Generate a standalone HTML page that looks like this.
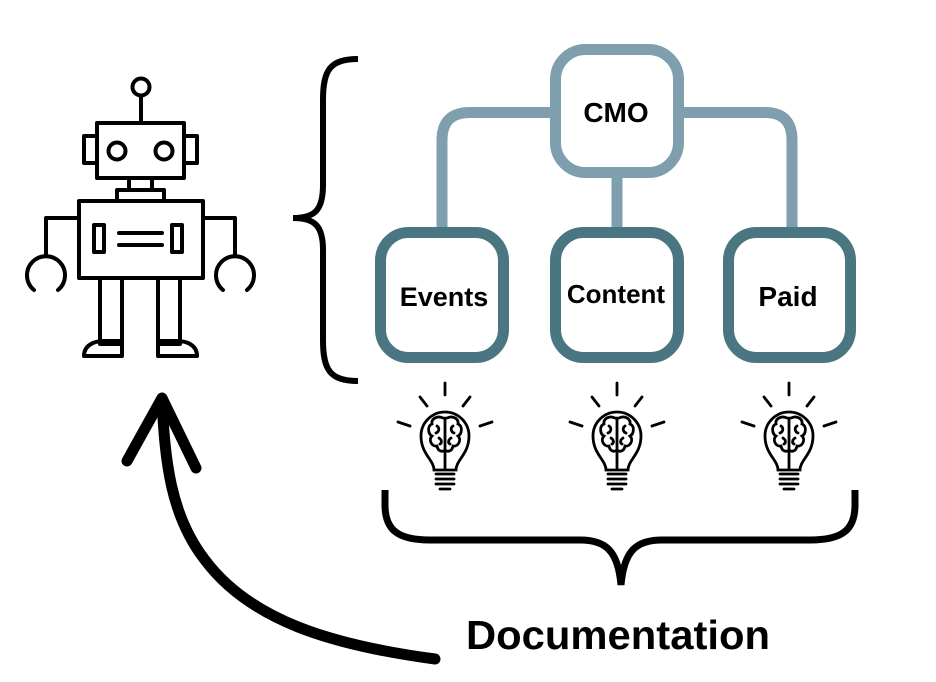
<!DOCTYPE html>
<html><head><meta charset="utf-8"><style>
html,body{margin:0;padding:0;background:#fff;}
svg{display:block}
text{font-family:"Liberation Sans",sans-serif;font-weight:bold;fill:#000}
</style></head><body>
<svg width="936" height="682" viewBox="0 0 936 682" xmlns="http://www.w3.org/2000/svg">
<defs>
<g id="bulb" fill="none" stroke="#000" stroke-width="2.8" stroke-linecap="round">
  <line x1="0" y1="-27" x2="0" y2="-15"/>
  <line x1="-25" y1="-13" x2="-18" y2="-4"/>
  <line x1="25" y1="-13" x2="18" y2="-4"/>
  <line x1="-47" y1="12" x2="-35" y2="16"/>
  <line x1="47" y1="12" x2="35" y2="16"/>
  <path d="M-11,60 C-11,50 -24,44 -24,26 A24,24 0 1 1 24,26 C24,44 11,50 11,60 Z"/>
  <path d="M-9,64 H9 M-9,69 H9 M-9,74 H9 M-5,79 H5"/>
  <path d="M-2,8 C-8,5 -14,9 -13,14 C-18,16 -17,24 -13,26 C-17,30 -13,37 -8,36 C-7,42 -2,42 0,40"/>
  <path d="M2,8 C8,5 14,9 13,14 C18,16 17,24 13,26 C17,30 13,37 8,36 C7,42 2,42 0,40"/>
  <path d="M0,8 V58 M-8,16 C-5,18 -6,22 -9,23 M8,16 C5,18 6,22 9,23 M-6,28 C-3,30 -3,33 -5,34 M6,28 C3,30 3,33 5,34"/>
</g>
</defs>

<!-- robot -->
<g fill="none" stroke="#000" stroke-width="4" stroke-linejoin="round" stroke-linecap="round">
  <circle cx="141" cy="87" r="8.5"/>
  <line x1="141" y1="96" x2="141" y2="123"/>
  <rect x="97" y="123" width="87" height="55"/>
  <rect x="84" y="136" width="13" height="27"/>
  <rect x="184" y="136" width="13" height="27"/>
  <circle cx="117" cy="151" r="8.5"/>
  <circle cx="164" cy="151" r="8.5"/>
  <line x1="129" y1="178" x2="129" y2="190"/>
  <line x1="152" y1="178" x2="152" y2="190"/>
  <rect x="117" y="190" width="47" height="11"/>
  <rect x="79" y="201" width="124" height="77"/>
  <rect x="94" y="225" width="10" height="27"/>
  <rect x="172" y="225" width="10" height="27"/>
  <line x1="119" y1="233" x2="162" y2="233"/>
  <line x1="119" y1="245" x2="162" y2="245"/>
  <path d="M79,218 H46 V256"/>
  <path d="M203,218 H235 V256"/>
  <path d="M34,290 A19,19 0 1 1 58,290"/>
  <path d="M223,290 A19,19 0 1 1 247,290"/>
  <rect x="100" y="278" width="22" height="66"/>
  <rect x="158" y="278" width="22" height="66"/>
  <path d="M84,356 C84,344 96,341 104,341 H122 V356 Z"/>
  <path d="M197,356 C197,344 185,341 177,341 H158 V356 Z"/>
</g>

<!-- left brace -->
<path d="M358,59 C330,59 323,70 323,100 V185 C323,210 315,218 293,218 C315,218 323,226 323,250 V340 C323,370 330,381 358,381" fill="none" stroke="#000" stroke-width="6"/>

<!-- connectors -->
<g fill="none" stroke="#7f9fae" stroke-width="11">
  <path d="M556,112.5 H470 Q442,112.5 442,140 V230"/>
  <path d="M678,112.5 H765 Q792,112.5 792,140 V230"/>
  <line x1="617" y1="172" x2="617" y2="230"/>
</g>
<rect x="555.5" y="49.5" width="123" height="123" rx="30" fill="#fff" stroke="#7f9fae" stroke-width="11"/>
<g fill="#fff" stroke="#4a7682" stroke-width="11">
  <rect x="380.5" y="232.5" width="123" height="125" rx="28"/>
  <rect x="555.5" y="232.5" width="123" height="125" rx="28"/>
  <rect x="728.5" y="232.5" width="122" height="125" rx="28"/>
</g>
<text x="616" y="122" font-size="28" text-anchor="middle">CMO</text>
<text x="444" y="306" font-size="27" text-anchor="middle">Events</text>
<text x="616" y="303" font-size="26" text-anchor="middle">Content</text>
<text x="788" y="306" font-size="28" text-anchor="middle">Paid</text>

<!-- bulbs -->
<use href="#bulb" x="445" y="410"/>
<use href="#bulb" x="617" y="410"/>
<use href="#bulb" x="789" y="410"/>

<!-- bottom brace -->
<path d="M385,490 V505 C385,530 398,540 430,540 H580 C605,540 618,550 621,585 C624,550 637,540 662,540 H810 C842,540 855,530 855,505 V490" fill="none" stroke="#000" stroke-width="7"/>

<text x="618" y="649" font-size="41" text-anchor="middle" textLength="304" lengthAdjust="spacingAndGlyphs">Documentation</text>

<!-- arrow -->
<g fill="none" stroke="#000" stroke-width="11" stroke-linecap="round" stroke-linejoin="round">
  <path d="M435,659 C330,645 250,620 205,560 C170,515 165,460 162,400"/>
  <path d="M127,461 L162,398 L196,468"/>
</g>
</svg>
</body></html>
